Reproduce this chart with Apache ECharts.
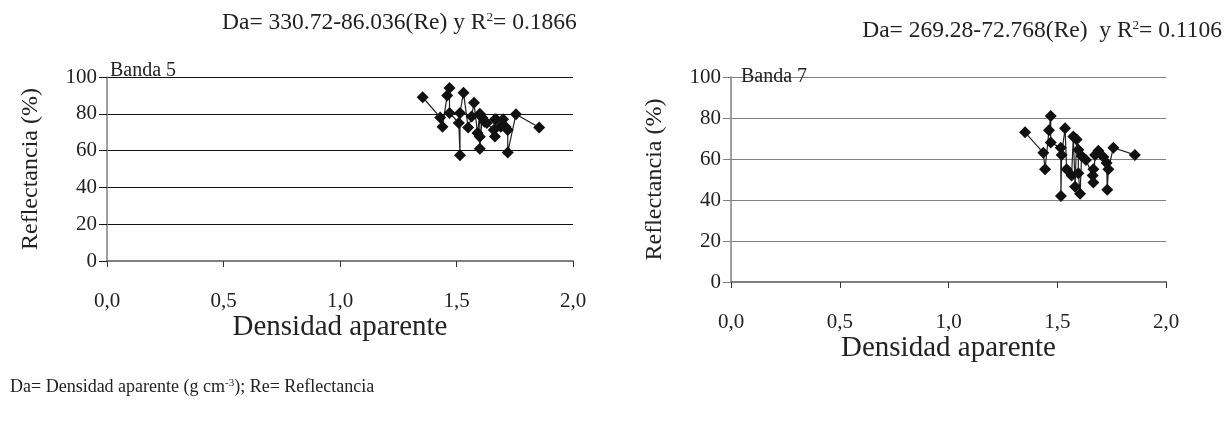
<!DOCTYPE html>
<html>
<head>
<meta charset="utf-8">
<script src="https://cdn.jsdelivr.net/npm/echarts@6/dist/echarts.min.js"></script>
<style>
  html, body { margin: 0; padding: 0; background: #fff; }
  #main { width: 1231px; height: 421px; }
</style>
</head>
<body>
<div id="main"></div>
<script>
// Banda 5: densidad aparente vs reflectancia
var banda5X = [1.355, 1.43, 1.44, 1.46, 1.47, 1.47, 1.51, 1.515, 1.515, 1.53, 1.55, 1.565, 1.575, 1.59, 1.60, 1.60, 1.60, 1.61, 1.62, 1.63, 1.66, 1.665, 1.665, 1.67, 1.69, 1.70, 1.71, 1.72, 1.72, 1.755, 1.855];
var banda5Y = [89, 78, 73, 90, 94, 80.5, 75, 57.5, 80.5, 91.5, 72.5, 78.5, 86, 69.5, 80, 67.5, 61, 78, 75.7, 75, 71.2, 77, 67.6, 77, 73, 77, 73, 71.2, 59, 79.7, 72.5];

// Banda 7
var banda7X = [1.352, 1.436, 1.444, 1.462, 1.47, 1.47, 1.516, 1.517, 1.52, 1.536, 1.543, 1.566, 1.574, 1.582, 1.589, 1.597, 1.597, 1.605, 1.612, 1.632, 1.663, 1.666, 1.666, 1.674, 1.689, 1.712, 1.727, 1.73, 1.735, 1.758, 1.857];
var banda7Y = [73, 63, 55, 74, 81, 68, 65.5, 42, 62, 75, 55, 52, 71, 46.5, 69.5, 64.5, 53, 43, 61.5, 59.5, 52, 55, 48.5, 62, 64, 61, 58, 45, 55, 65.5, 62];

var xTicks = ['0,0', '0,5', '1,0', '1,5', '2,0'];

var ff = '"Liberation Serif", "Times New Roman", serif';

function pairs(xs, ys) {
  var out = [];
  for (var i = 0; i < xs.length; i++) out.push([xs[i], ys[i]]);
  out.sort(function (a, b) { return a[0] - b[0]; });
  return out;
}

function xAxisCfg(gi, gap) {
  return {
    gridIndex: gi,
    type: 'value',
    min: 0, max: 2, interval: 0.5,
    name: 'Densidad aparente',
    nameLocation: 'middle',
    nameGap: gap,
    nameTextStyle: { fontFamily: ff, fontSize: 29, color: '#222' },
    axisLine: { lineStyle: { color: '#808080', width: 2 } },
    axisTick: { show: true, length: 6, lineStyle: { color: '#333', width: 1 } },
    axisLabel: {
      fontFamily: ff, fontSize: 21, color: '#222', margin: 30,
      formatter: function (v) { return xTicks[Math.round(v / 0.5)]; }
    },
    splitLine: { show: false }
  };
}

function yAxisCfg(gi, gridColor) {
  return {
    gridIndex: gi,
    type: 'value',
    min: 0, max: 100, interval: 20,
    name: 'Reflectancia (%)',
    nameLocation: 'middle',
    nameGap: 64,
    nameTextStyle: { fontFamily: ff, fontSize: 24, color: '#222' },
    axisLine: { show: true, lineStyle: { color: '#808080', width: 1.5 } },
    axisTick: { show: true, inside: false, length: 8, lineStyle: { color: gridColor, width: 1 } },
    axisLabel: { fontFamily: ff, fontSize: 21, color: '#222', margin: 10 },
    splitLine: { show: true, lineStyle: { color: gridColor, width: 1 } }
  };
}

function seriesCfg(idx, data) {
  return {
    type: 'line',
    xAxisIndex: idx, yAxisIndex: idx,
    data: data,
    symbol: 'diamond',
    symbolSize: 12,
    itemStyle: { color: '#111' },
    lineStyle: { color: '#222', width: 1.2 },
    animation: false
  };
}

var supStyle = { fontFamily: ff, fontSize: 13, color: '#222', verticalAlign: 'top', padding: [0, 0, 9, 0] };

var chart = echarts.init(document.getElementById('main'));
chart.setOption({
  backgroundColor: '#fff',
  animation: false,
  title: [
    {
      text: 'Da= 330.72-86.036(Re) y R{sup|2}= 0.1866',
      left: 217, top: 6,
      textStyle: { fontFamily: ff, fontSize: 23.5, fontWeight: 'normal', color: '#222', rich: { sup: supStyle } }
    },
    {
      text: 'Da= 269.28-72.768(Re)  y R{sup|2}= 0.1106',
      right: 4, top: 14,
      textStyle: { fontFamily: ff, fontSize: 23.5, fontWeight: 'normal', color: '#222', rich: { sup: supStyle } }
    },
    {
      text: 'Banda 5', left: 105, top: 56,
      textStyle: { fontFamily: ff, fontSize: 20, fontWeight: 'normal', color: '#222' }
    },
    {
      text: 'Banda 7', left: 736, top: 62,
      textStyle: { fontFamily: ff, fontSize: 20, fontWeight: 'normal', color: '#222' }
    },
    {
      text: 'Da= Densidad aparente (g cm{sup|-3}); Re= Reflectancia',
      left: 5, top: 373,
      textStyle: {
        fontFamily: ff, fontSize: 18, fontWeight: 'normal', color: '#222',
        rich: { sup: { fontFamily: ff, fontSize: 11, color: '#222', verticalAlign: 'top', padding: [0, 0, 7, 0] } }
      }
    }
  ],
  grid: [
    { left: 107, top: 77, width: 466, height: 184 },
    { left: 731, top: 77, width: 435, height: 205 }
  ],
  xAxis: [xAxisCfg(0, 48), xAxisCfg(1, 45)],
  yAxis: [yAxisCfg(0, '#111'), yAxisCfg(1, '#808080')],
  series: [
    seriesCfg(0, pairs(banda5X, banda5Y)),
    seriesCfg(1, pairs(banda7X, banda7Y))
  ]
});
</script>
</body>
</html>
